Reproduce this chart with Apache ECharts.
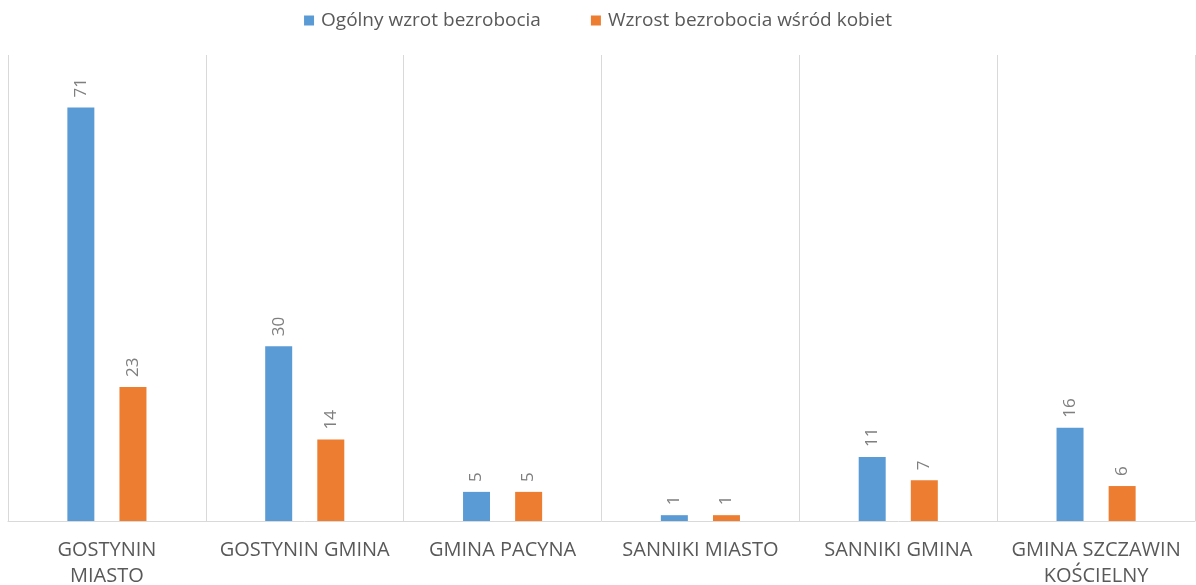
<!DOCTYPE html>
<html>
<head>
<meta charset="utf-8">
<script src="https://cdn.jsdelivr.net/npm/echarts@6/dist/echarts.min.js"></script>
<style>
  html, body { margin: 0; padding: 0; background: #fff; }
  #wykres { width: 1196px; height: 585px; }
</style>
</head>
<body>
<div id="wykres"></div>
<script>
// dane
var gminy = ['GOSTYNIN\nMIASTO', 'GOSTYNIN GMINA', 'GMINA PACYNA', 'SANNIKI MIASTO', 'SANNIKI GMINA', 'GMINA SZCZAWIN\nKOŚCIELNY'];
var ogolny = [71, 30, 5, 1, 11, 16];
var kobiety = [23, 14, 5, 1, 7, 6];
var nazwySerii = ['Ogólny wzrot bezrobocia', 'Wzrost bezrobocia wśród kobiet'];

var chart = echarts.init(document.getElementById('wykres'));

var etykieta = {
  show: true,
  position: 'top',
  rotate: 90,
  align: 'left',
  verticalAlign: 'middle',
  distance: 10,
  color: '#7f7f7f',
  fontSize: 17,
  fontFamily: 'Open Sans'
};

var option = {
  animation: false,
  textStyle: { fontFamily: 'Open Sans' },
  legend: {
    top: 6,
    left: 'center',
    itemWidth: 10,
    itemHeight: 10,
    itemGap: 50,
    icon: 'rect',
    textStyle: { color: '#595959', fontSize: 19, fontFamily: 'Open Sans', padding: [0, 0, 0, 2] },
    data: nazwySerii
  },
  grid: { left: 8, right: 1, top: 55, bottom: 64, outerBoundsMode: 'none' },
  xAxis: {
    type: 'category',
    data: gminy,
    axisLine: { lineStyle: { color: '#d9d9d9' } },
    axisTick: { show: false },
    splitLine: { show: true, interval: 0, lineStyle: { color: '#d9d9d9' } },
    axisLabel: {
      interval: 0,
      color: '#595959',
      fontSize: 20,
      lineHeight: 26,
      margin: 16,
      fontFamily: 'Open Sans'
    }
  },
  yAxis: {
    type: 'value',
    min: 0,
    max: 80,
    show: false
  },
  series: [
    {
      name: nazwySerii[0],
      type: 'bar',
      data: ogolny,
      barWidth: 27,
      barGap: '93%',
      itemStyle: { color: '#5b9bd5' },
      label: etykieta
    },
    {
      name: nazwySerii[1],
      type: 'bar',
      data: kobiety,
      barWidth: 27,
      itemStyle: { color: '#ed7d31' },
      label: etykieta
    }
  ]
};

chart.setOption(option);
</script>
</body>
</html>
